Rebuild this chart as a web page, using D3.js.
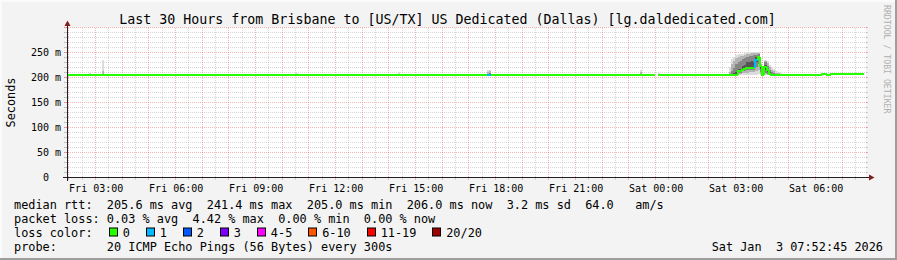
<!DOCTYPE html>
<html><head><meta charset="utf-8">
<script src="https://cdn.jsdelivr.net/npm/d3@7"></script>
<style>
html,body{margin:0;padding:0;background:#f3f3f3;overflow:hidden;}
svg text{font-family:"DejaVu Sans Mono",monospace;white-space:pre;}
</style></head><body>
<svg id="c" width="897" height="260"></svg>
<script>
// ---------------- data ----------------
const title = "Last 30 Hours from Brisbane to [US/TX] US Dedicated (Dallas) [lg.daldedicated.com]";
const startTime = "2026-01-02 01:52:45";
const endTime = "2026-01-03 07:52:45";
const dataEnd = "2026-01-03 07:50:00";
const yTickValues = [0, 50, 100, 150, 200, 250];
const yTickLabels = ["0  ", "50 m", "100 m", "150 m", "200 m", "250 m"];
const xLabelTimes = ["2026-01-02 03:00:00","2026-01-02 06:00:00","2026-01-02 09:00:00","2026-01-02 12:00:00","2026-01-02 15:00:00","2026-01-02 18:00:00","2026-01-02 21:00:00","2026-01-03 00:00:00","2026-01-03 03:00:00","2026-01-03 06:00:00"];
const xLabelTexts = ["Fri 03:00","Fri 06:00","Fri 09:00","Fri 12:00","Fri 15:00","Fri 18:00","Fri 21:00","Sat 00:00","Sat 03:00","Sat 06:00"];

// median rtt (ms) as change points of a step line; value holds until next time
const medianTimes = ["2026-01-02 01:55:00","2026-01-02 17:40:00","2026-01-02 17:50:00","2026-01-03 00:00:00","2026-01-03 00:05:00",
  "2026-01-03 03:05:00","2026-01-03 03:10:00","2026-01-03 03:15:00","2026-01-03 03:20:00","2026-01-03 03:25:00","2026-01-03 03:30:00",
  "2026-01-03 03:35:00","2026-01-03 03:40:00","2026-01-03 03:45:00","2026-01-03 03:50:00","2026-01-03 03:55:00","2026-01-03 04:00:00",
  "2026-01-03 04:05:00","2026-01-03 04:10:00","2026-01-03 04:15:00","2026-01-03 04:20:00","2026-01-03 06:15:00","2026-01-03 06:25:00","2026-01-03 06:35:00"];
const medianValues = [205.5, 205.5, 205.5, null, 205.5,
  213, 214, 216, 217, 219, 220,
  219, 220, 236, 241.4, 223, 206,
  222, 215, 207, 205.5, 206.5, 205.5, 207];
const medianLoss = [0, 1, 0, 0, 0,
  0, 0, 0, 0, 0, 0,
  0, 0, 1, 0, 0, 0,
  0, 0, 0, 0, 0, 0, 0];

// smoke: sorted ping quantiles per 5-min step [p0,p2,p5,p8,p11,p14,p17,p19] (ms)
const smokeTimes = ["2026-01-02 02:45:00","2026-01-02 03:15:00","2026-01-02 10:30:00","2026-01-02 14:20:00","2026-01-02 17:40:00","2026-01-02 17:45:00","2026-01-02 23:25:00","2026-01-03 00:05:00",
  "2026-01-03 02:45:00","2026-01-03 02:50:00","2026-01-03 02:55:00","2026-01-03 03:00:00","2026-01-03 03:05:00","2026-01-03 03:10:00","2026-01-03 03:15:00","2026-01-03 03:20:00",
  "2026-01-03 03:25:00","2026-01-03 03:30:00","2026-01-03 03:35:00","2026-01-03 03:40:00","2026-01-03 03:45:00","2026-01-03 03:50:00","2026-01-03 03:55:00","2026-01-03 04:00:00",
  "2026-01-03 04:05:00","2026-01-03 04:10:00","2026-01-03 04:15:00","2026-01-03 04:20:00","2026-01-03 04:25:00","2026-01-03 04:30:00","2026-01-03 04:35:00","2026-01-03 04:40:00","2026-01-03 06:15:00"];
const smokePings = [
  [204,205,205,205,206,206.5,207.5,210],
  [204,205,205,205.5,206,208,213,236],
  [204,205,205,205.5,206,206.5,207,209],
  [204,205,205,205.5,206,207,208,211],
  [204,205,205,205.5,206.5,208,212,216],
  [204,205,205.5,206,207,209,213,216],
  [204,205,205,205.5,206,208,211,215],
  [203,203.5,204,204.5,207,207.5,208,208.5],
  [204,205,205,205.5,206,208,212,222],
  [204,205,205.5,206,207,214,228,238],
  [204,205,206,206.5,209,220,234,242],
  [204,205,205.5,206,212,227,239,245],
  [205,207,209,212,218,231,241,247],
  [205,208,210,212,218,234,243,247],
  [205,209,213,215,224,237,244,248],
  [206,210,213,216,226,239,246,249],
  [206,210,215,218,230,241,247,250],
  [206,211,216,219,232,243,248,251],
  [206,211,215,218,233,244,249,251],
  [206,212,216,218,232,245,249,252],
  [206,214,222,232,240,246,249,252],
  [207,216,228,238,243,247,249,251],
  [205,207,212,218,224,226,228,231],
  [204,205,205,206,207,210,215,221],
  [205,207,210,216,226,230,233,236],
  [205,206,208,212,218,224,229,233],
  [204,205,206,207,212,216,221,226],
  [204,205,205,205.5,207,211,216,221],
  [204,205,205,205.5,206,209,213,217],
  [204,205,205,205.5,206,207.5,210,214],
  [204,205,205,205.5,206,207,209,212],
  [204,205,205,205.5,206,206.5,208,210],
  [204,205,205.5,206,207,207.5,208,209]
];

const lossLabels = ["0","1","2","3","4-5","6-10","11-19","20/20"];
const lossColors = ["#26ff00","#00b8ff","#0059ff","#7e00ff","#ff00ff","#ff5500","#ff0000","#a10000"];

const legendLines = [
  "median rtt:  205.6 ms avg  241.4 ms max  205.0 ms min  206.0 ms now  3.2 ms sd  64.0   am/s",
  "packet loss: 0.03 % avg  4.42 % max  0.00 % min  0.00 % now",
  "loss color:",
  "probe:       20 ICMP Echo Pings (56 Bytes) every 300s"
];
const stampText = "Sat Jan  3 07:52:45 2026";
const yAxisTitle = "Seconds";
const watermark = "RRDTOOL / TOBI OETIKER";

// ---------------- drawing ----------------
const parse = d3.timeParse("%Y-%m-%d %H:%M:%S");
const W = 897, H = 260;
const svg = d3.select("#c");
const t0 = parse(startTime), t1 = parse(endTime);
const x = d3.scaleTime().domain([t0, t1]).range([65.5, 865.5]);
const y = d3.scaleLinear().domain([0, 300]).range([177.5, 27.5]);
const px = v => Math.floor(x(v)) + 0.5;

// background + frame
svg.append("rect").attr("width", W).attr("height", H).attr("fill", "#f3f3f3");
svg.append("path").attr("d", `M0,0H${W}V2H2V${H}H0Z`).attr("fill", "#fbfbfb");
svg.append("path").attr("d", `M${W},${H}H0V${H-2}H${W-2}V0H${W}Z`).attr("fill", "#9e9e9e");

// canvas
svg.append("rect").attr("x", 67).attr("y", 27.5).attr("width", 799).attr("height", 150).attr("fill", "#ffffff");

const grid = svg.append("g").attr("shape-rendering", "crispEdges");
const minorCol = "rgba(150,150,150,0.38)", majorCol = "rgba(230,90,90,0.45)";

// horizontal grid
d3.range(10, 301, 10).forEach(v => {
  const major = v % 50 === 0;
  const c = major ? majorCol : minorCol;
  grid.append("line").attr("x1", 64).attr("x2", 868).attr("y1", y(v)).attr("y2", y(v))
    .attr("stroke", c).attr("stroke-dasharray", "1,1");
  grid.append("line").attr("x1", 64).attr("x2", 67).attr("y1", y(v)).attr("y2", y(v)).attr("stroke", c);
  grid.append("line").attr("x1", 866).attr("x2", 868).attr("y1", y(v)).attr("y2", y(v)).attr("stroke", c);
});
// vertical grid
const minorT = d3.timeMinute.every(30).range(t0, t1);
minorT.forEach(t => {
  const major = t.getMinutes() === 0;
  const c = major ? majorCol : minorCol;
  const xx = px(t);
  grid.append("line").attr("x1", xx).attr("x2", xx).attr("y1", 27.5).attr("y2", 177.5)
    .attr("stroke", c).attr("stroke-dasharray", "1,1");
  grid.append("line").attr("x1", xx).attr("x2", xx).attr("y1", 177.5).attr("y2", 180).attr("stroke", c);
});

// smoke
const smokeShades = ["#dcdcdc", "#b4b4b4", "#868686", "#555555"];
const step = 5 * 60 * 1000;
const smokeG = svg.append("g").attr("shape-rendering", "crispEdges");
smokeTimes.forEach((ts, i) => {
  const t = parse(ts);
  const p = smokePings[i];
  const xa = Math.round(x(t)), xb = Math.round(x(new Date(+t + step)));
  for (let k = 0; k < 4; k++) {
    const lo = p[k], hi = p[7 - k];
    const ya = Math.round(y(hi)), yb = Math.round(y(lo));
    smokeG.append("rect").attr("x", xa).attr("width", Math.max(1, xb - xa))
      .attr("y", ya).attr("height", Math.max(1, yb - ya)).attr("fill", smokeShades[k]);
  }
});

// median line
const mt = medianTimes.map(parse);
const tEnd = parse(dataEnd);
const lineG = svg.append("g");
const yr = v => Math.round(y(v));
for (let i = 0; i < mt.length; i++) {
  const v = medianValues[i];
  if (v == null) continue;
  const xa = Math.round(x(mt[i])), xb = Math.round(x(i + 1 < mt.length ? mt[i + 1] : tEnd));
  const prev = i > 0 ? medianValues[i - 1] : null;
  const pts = [];
  if (prev != null) pts.push([xa, yr(prev)]);
  pts.push([xa, yr(v)], [xb, yr(v)]);
  lineG.append("path").attr("d", d3.line()(pts)).attr("fill", "none")
    .attr("stroke", lossColors[medianLoss[i]]).attr("stroke-width", 2);
}

// axes
const axisCol = "#202020", arrowCol = "#7f1f1f";
svg.append("line").attr("x1", 63).attr("x2", 870).attr("y1", 177.5).attr("y2", 177.5).attr("stroke", axisCol);
svg.append("line").attr("x1", 67.5).attr("x2", 67.5).attr("y1", 181).attr("y2", 25).attr("stroke", axisCol);
svg.append("path").attr("d", "M869,174.5L874.5,177.5L869,180.5Z").attr("fill", arrowCol);
svg.append("path").attr("d", "M64.5,26L67.5,20.5L70.5,26Z").attr("fill", arrowCol);

// y tick labels
svg.append("g").selectAll("text").data(yTickValues).join("text")
  .attr("x", 61).attr("y", d => y(d) + 3.6).attr("text-anchor", "end")
  .attr("font-size", "10px").attr("fill", "#000").text((d, i) => yTickLabels[i]);

// x tick labels
svg.append("g").selectAll("text").data(xLabelTimes).join("text")
  .attr("x", d => x(parse(d)) + 0.8).attr("y", 191.5).attr("text-anchor", "middle")
  .attr("font-size", "10px").attr("fill", "#000").text((d, i) => xLabelTexts[i]);

// title
svg.append("text").attr("x", 447.5).attr("y", 24).attr("text-anchor", "middle")
  .attr("font-size", "13.3px").attr("fill", "#000").text(title);

// y axis title
svg.append("text").attr("transform", "translate(15,102.5) rotate(-90)").attr("text-anchor", "middle")
  .attr("font-size", "11.86px").attr("fill", "#000").text(yAxisTitle);

// watermark
svg.append("text").attr("transform", "translate(883.5,5) rotate(90)")
  .attr("font-size", "8.2px").attr("fill", "#b0b0b0").text(watermark);

// legend
const adv = 7.14, lx = 14, ly0 = 208.5, lh = 14;
const fsL = "11.86px";
legendLines.forEach((s, i) => {
  svg.append("text").attr("x", lx).attr("y", ly0 + i * lh).attr("font-size", fsL).attr("fill", "#000").text(s);
});
// loss colour boxes
let cursor = 108.7;
const boxY = ly0 + 2 * lh;
lossLabels.forEach((lab, i) => {
  svg.append("rect").attr("x", Math.round(cursor) + 0.5).attr("y", boxY - 8.5).attr("width", 8).attr("height", 8)
    .attr("fill", lossColors[i]).attr("stroke", "#000").attr("stroke-width", 1);
  const tx = cursor + 14.6;
  svg.append("text").attr("x", tx - 0.6).attr("y", boxY).attr("font-size", fsL).attr("fill", "#000").text(lab);
  cursor = tx + lab.length * adv + 15.3;
});
// timestamp
svg.append("text").attr("x", 883).attr("y", ly0 + 3 * lh).attr("text-anchor", "end")
  .attr("font-size", fsL).attr("fill", "#000").text(stampText);
</script>
</body></html>
